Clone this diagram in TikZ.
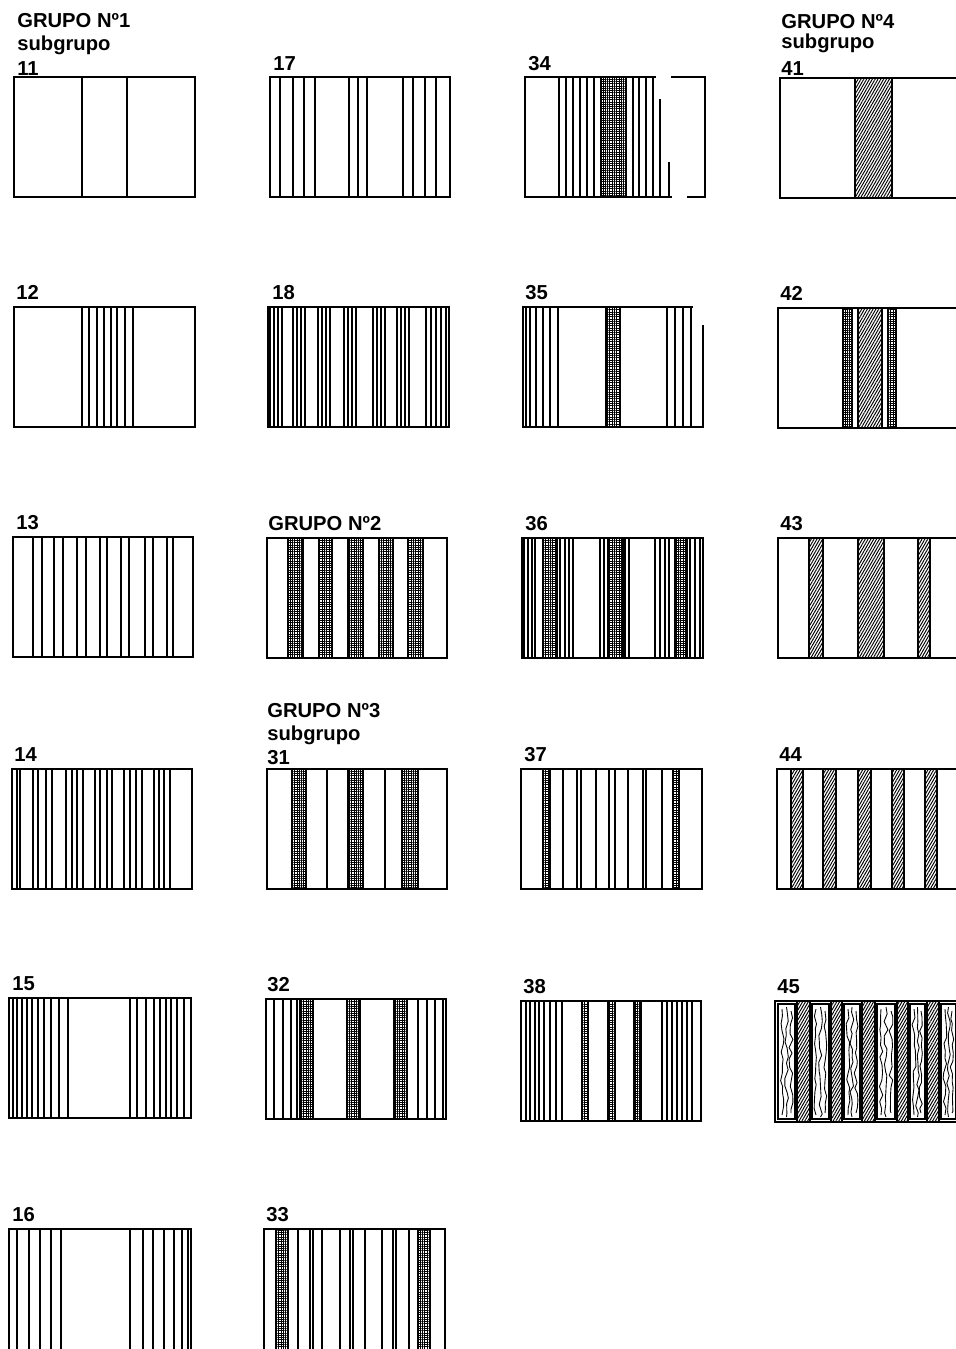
\documentclass[tikz,border=0pt]{standalone}
\usepackage{fontspec}
\setsansfont{Liberation Sans}
\usetikzlibrary{patterns.meta,decorations.pathmorphing}

\begin{document}
\begin{tikzpicture}[
  x=0.02cm, y=-0.02cm,
  cloth/.style={
    draw,
    line width=1pt
  },
  thread/.style={
    line width=0.7pt
  },
  mesh/.style={
    draw,
    line width=0.6pt,
    pattern={Hatch[angle=0,distance=1.3pt,line width=0.45pt]}
  },
  twill/.style={
    draw,
    line width=0.6pt,
    pattern={Lines[angle=60,distance=1.4pt,line width=0.55pt]}
  },
  rough/.style={
    line width=0.5pt,
    decorate,
    decoration={random steps,segment length=4pt,amplitude=1.1pt}
  },
  tag/.style={
    anchor=base west,
    inner sep=0pt,
    font=\sffamily\bfseries\fontsize{11.5}{13}\selectfont
  }
]
\pgfmathsetseed{7}
\fill[white] (0,0) rectangle (956,1349);
\useasboundingbox (0,0) rectangle (956,1349);

% Títulos y números
\node[tag] (g1)    at (17,27)   {GRUPO Nº1};
\node[tag] (g1sub) at (17,50)   {subgrupo};
\node[tag] (t11)   at (17,75)   {11};
\node[tag] (t17)   at (273,70)  {17};
\node[tag] (t34)   at (528,70)  {34};
\node[tag] (g4)    at (781,28)  {GRUPO Nº4};
\node[tag] (g4sub) at (781,48)  {subgrupo};
\node[tag] (t41)   at (781,75)  {41};

\node[tag] (t12) at (16,299)  {12};
\node[tag] (t18) at (272,299) {18};
\node[tag] (t35) at (525,299) {35};
\node[tag] (t42) at (780,300) {42};

\node[tag] (t13) at (16,529)  {13};
\node[tag] (g2)  at (268,530) {GRUPO Nº2};
\node[tag] (t36) at (525,530) {36};
\node[tag] (t43) at (780,530) {43};

\node[tag] (t14)   at (14,761)  {14};
\node[tag] (g3)    at (267,717) {GRUPO Nº3};
\node[tag] (g3sub) at (267,740) {subgrupo};
\node[tag] (t31)   at (267,764) {31};
\node[tag] (t37)   at (524,761) {37};
\node[tag] (t44)   at (779,761) {44};

\node[tag] (t15) at (12,990)  {15};
\node[tag] (t32) at (267,991) {32};
\node[tag] (t38) at (523,993) {38};
\node[tag] (t45) at (777,993) {45};

\node[tag] (t16) at (12,1221)  {16};
\node[tag] (t33) at (266,1221) {33};

% Fila 1
\begin{scope}[shift={(14,77)}]
  \draw[cloth] (0,0) rectangle (181,120);
  \foreach \x in {68,113} \draw[thread] (\x,0) -- (\x,120);
\end{scope}

\begin{scope}[shift={(270,77)}]
  \draw[cloth] (0,0) rectangle (180,120);
  \foreach \x in {10,23,34,45,79,88,97,133,143,155,166}
    \draw[thread] (\x,0) -- (\x,120);
\end{scope}

\begin{scope}[shift={(525,77)}]
  \draw[cloth] (131,0) -- (0,0) -- (0,120) -- (147,120)
    (146,0) -- (180,0) -- (180,120) -- (162,120);
  \foreach \x in {34,41,48,55,62,69,108,114,121,128}
    \draw[thread] (\x,0) -- (\x,120);
  \draw[mesh] (76,0) rectangle (101,120);
  \draw[thread] (135,22) -- (135,120);
  \draw[thread] (144,85) -- (144,120);
\end{scope}

\begin{scope}[shift={(780,78)}]
  \draw[cloth] (0,0) rectangle (181,120);
  \draw[twill] (75,0) rectangle (112,120);
\end{scope}

% Fila 2
\begin{scope}[shift={(14,307)}]
  \draw[cloth] (0,0) rectangle (181,120);
  \foreach \x in {68,75,83,90,97,103,111,119}
    \draw[thread] (\x,0) -- (\x,120);
\end{scope}

\begin{scope}[shift={(268,307)}]
  \draw[cloth] (0,0) rectangle (181,120);
  \foreach \g in {2,25,50,76,105,129}
    \foreach \d in {0,4,8,12}
      \draw[thread] ({\g+\d},0) -- ({\g+\d},120);
  \foreach \x in {158,163,168,173,178}
    \draw[thread] (\x,0) -- (\x,120);
\end{scope}

\begin{scope}[shift={(523,307)}]
  \draw[cloth] (170,0) -- (0,0) -- (0,120) -- (180,120) -- (180,18);
  \foreach \x in {3,7,13,20,27,35,144,152,160,168}
    \draw[thread] (\x,0) -- (\x,120);
  \draw[mesh] (83,0) rectangle (97,120);
\end{scope}

\begin{scope}[shift={(778,308)}]
  \draw[cloth] (0,0) rectangle (181,120);
  \draw[mesh] (65,0) rectangle (74,120);
  \draw[twill] (80,0) rectangle (104,120);
  \draw[mesh] (110,0) rectangle (118,120);
\end{scope}

% Fila 3
\begin{scope}[shift={(13,537)}]
  \draw[cloth] (0,0) rectangle (180,120);
  \foreach \x in {20,29,41,50,64,73,87,94,108,116,132,140,154,160}
    \draw[thread] (\x,0) -- (\x,120);
\end{scope}

\begin{scope}[shift={(267,538)}]
  \draw[cloth] (0,0) rectangle (180,120);
  \foreach \a/\b in {21/36,52/65,81/96,112/126,141/156}
    \draw[mesh] (\a,0) rectangle (\b,120);
\end{scope}

\begin{scope}[shift={(522,538)}]
  \draw[cloth] (0,0) rectangle (181,120);
  \foreach \x in {2,6,10,13,38,43,47,51,78,82,103,107,133,138,143,147,168,173,178}
    \draw[thread] (\x,0) -- (\x,120);
  \foreach \a/\b in {21/35,86/101,153/165}
    \draw[mesh] (\a,0) rectangle (\b,120);
\end{scope}

\begin{scope}[shift={(778,538)}]
  \draw[cloth] (0,0) rectangle (181,120);
  \foreach \a/\b in {31/45,80/106,140/152}
    \draw[twill] (\a,0) rectangle (\b,120);
\end{scope}

% Fila 4
\begin{scope}[shift={(12,769)}]
  \draw[cloth] (0,0) rectangle (180,120);
  \foreach \x in {5,8,21,26,34,40,54,60,65,71,83,88,95,100,112,118,124,130,142,147,152,158}
    \draw[thread] (\x,0) -- (\x,120);
\end{scope}

\begin{scope}[shift={(267,769)}]
  \draw[cloth] (0,0) rectangle (180,120);
  \foreach \x in {60,118} \draw[thread] (\x,0) -- (\x,120);
  \foreach \a/\b in {25/39,81/96,135/151}
    \draw[mesh] (\a,0) rectangle (\b,120);
\end{scope}

\begin{scope}[shift={(521,769)}]
  \draw[cloth] (0,0) rectangle (181,120);
  \foreach \x in {42,56,60,75,88,94,107,122,125,141}
    \draw[thread] (\x,0) -- (\x,120);
  \foreach \a/\b in {22/29,152/158}
    \draw[mesh] (\a,0) rectangle (\b,120);
\end{scope}

\begin{scope}[shift={(777,769)}]
  \draw[cloth] (0,0) rectangle (182,120);
  \foreach \a/\b in {14/26,46/59,81/94,115/127,148/160}
    \draw[twill] (\a,0) rectangle (\b,120);
\end{scope}

% Fila 5
\begin{scope}[shift={(9,998)}]
  \draw[cloth] (0,0) rectangle (182,120);
  \foreach \x in {4,8,13,18,23,29,35,42,50,59,121,128,137,145,151,157,162,168,175}
    \draw[thread] (\x,0) -- (\x,120);
\end{scope}

\begin{scope}[shift={(266,999)}]
  \draw[cloth] (0,0) rectangle (180,120);
  \foreach \x in {8,17,25,31,152,161,169,177}
    \draw[thread] (\x,0) -- (\x,120);
  \foreach \a/\b in {34/47,81/94,128/141}
    \draw[mesh] (\a,0) rectangle (\b,120);
\end{scope}

\begin{scope}[shift={(521,1001)}]
  \draw[cloth] (0,0) rectangle (180,120);
  \foreach \x in {5,9,14,18,23,29,35,41,141,146,151,156,161,166,171}
    \draw[thread] (\x,0) -- (\x,120);
  \foreach \a/\b in {61/67,87/94,113/120}
    \draw[mesh] (\a,0) rectangle (\b,120);
\end{scope}

\begin{scope}[shift={(775,1001)}]
  \draw[cloth] (0,0) rectangle (182,121);
  \foreach \a/\b in {22/35,56/67,87/100,122/133,152/164}
    \draw[twill] (\a,0) rectangle (\b,121);
  \foreach \a/\b in {3/20,37/54,69/85,102/120,135/150,166/181} {
    \draw[thread] (\a,3) rectangle (\b,118);
    \draw[rough] ({\a+4},8) -- ({\a+4},114);
    \draw[rough] ({(\a+\b)/2},6) -- ({(\a+\b)/2},116);
    \draw[rough] ({\b-4},10) -- ({\b-4},112);
  }
\end{scope}

% Fila 6
\begin{scope}[shift={(9,1229)}]
  \draw[cloth] (0,0) rectangle (182,124);
  \foreach \x in {8,20,31,42,52,121,134,144,155,165,173,179}
    \draw[thread] (\x,0) -- (\x,124);
\end{scope}

\begin{scope}[shift={(264,1229)}]
  \draw[cloth] (0,0) rectangle (181,124);
  \foreach \x in {34,46,49,58,76,86,89,101,118,129,132,145}
    \draw[thread] (\x,0) -- (\x,124);
  \foreach \a/\b in {12/24,154/166}
    \draw[mesh] (\a,0) rectangle (\b,124);
\end{scope}

\end{tikzpicture}
\end{document}
